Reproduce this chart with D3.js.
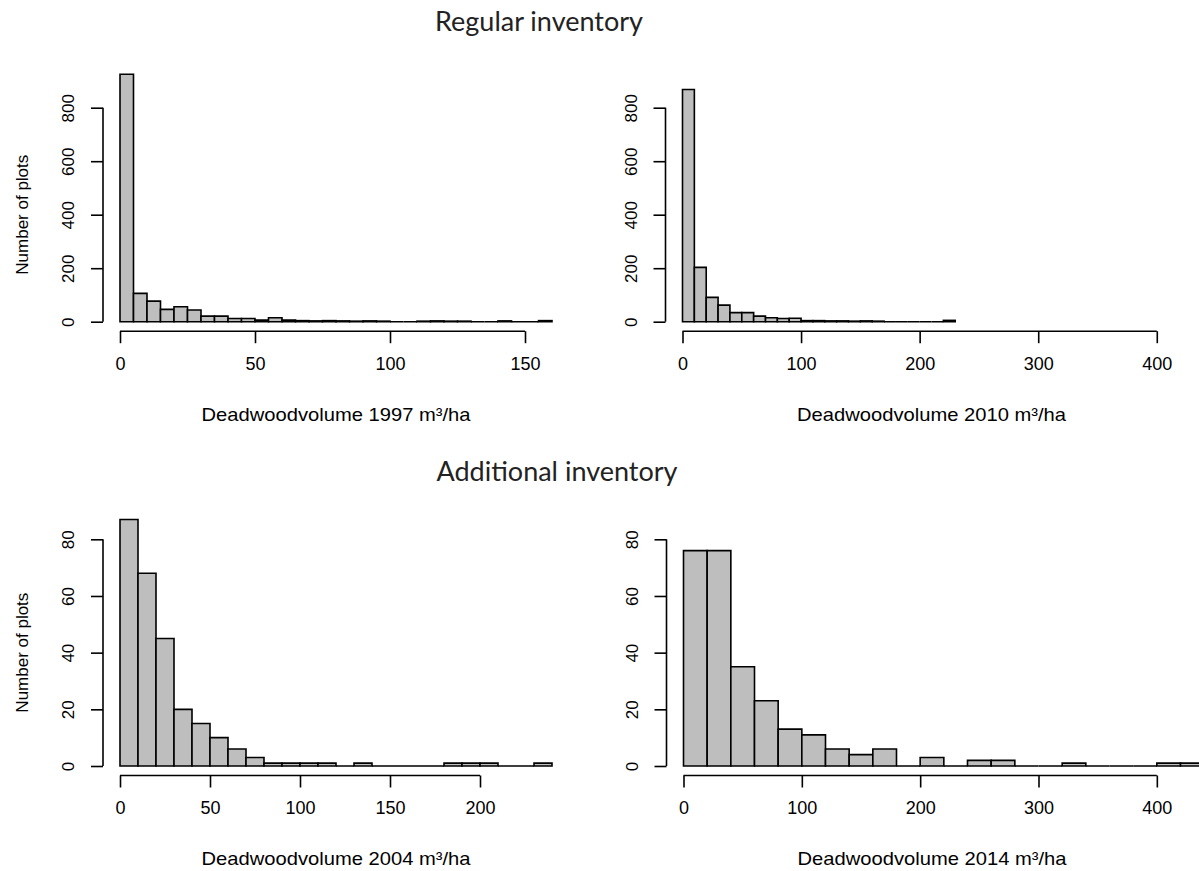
<!DOCTYPE html>
<html>
<head>
<meta charset="utf-8">
<script src="https://cdn.jsdelivr.net/npm/d3@7"></script>
<style>
  body { margin: 0; background: #fff; }
  text { font-family: "Liberation Sans", Arial, sans-serif; fill: #000; }
  .title { font-family: Lato, "Open Sans", sans-serif; font-size: 27px; fill: #222; }
</style>
</head>
<body>
<div id="chart"></div>
<script>
// histogram counts
const counts1997 = [925,106,77,46,56,44,21,21,12,12,6,15,6,4,3,4,3,2,3,2,0,0,2,3,2,2,0,0,3,0,0,4];
const counts2010 = [868,203,91,62,34,34,21,15,12,13,4,4,3,3,2,3,2,0,0,0,0,0,5];
const counts2004 = [87,68,45,20,15,10,6,3,1,1,1,1,0,1,0,0,0,0,1,1,1,0,0,1];
const counts2014 = [76,76,35,23,13,11,6,4,6,0,3,0,2,2,0,0,1,0,0,0,1,1];

const binWidths = [5, 10, 10, 20];
const xTicks1997 = [0, 50, 100, 150];
const xTicks2010 = [0, 100, 200, 300, 400];
const xTicks2004 = [0, 50, 100, 150, 200];
const xTicks2014 = [0, 100, 200, 300, 400];
const yTicksTop = [0, 200, 400, 600, 800];
const yTicksBottom = [0, 20, 40, 60, 80];
const xLabels = ["Deadwoodvolume 1997 m³/ha", "Deadwoodvolume 2010 m³/ha",
                 "Deadwoodvolume 2004 m³/ha", "Deadwoodvolume 2014 m³/ha"];
const rowTitles = ["Regular inventory", "Additional inventory"];

const width = 1199, height = 871;

const svg = d3.select("#chart").append("svg")
  .attr("width", width)
  .attr("height", height);

// panel layout (pixel frames for each plot)
const panels = [
  {counts: counts1997, bw: binWidths[0], xmax: 160, left: 120, right: 552, xticks: xTicks1997, yticks: yTicksTop, ymax: 800, row: 0, label: xLabels[0]},
  {counts: counts2010, bw: binWidths[1], xmax: 420, left: 682.5, right: 1180.5, xticks: xTicks2010, yticks: yTicksTop, ymax: 800, row: 0, label: xLabels[1]},
  {counts: counts2004, bw: binWidths[2], xmax: 240, left: 120, right: 552, xticks: xTicks2004, yticks: yTicksBottom, ymax: 80, row: 1, label: xLabels[2]},
  {counts: counts2014, bw: binWidths[3], xmax: 420, left: 683.5, right: 1180.5, xticks: xTicks2014, yticks: yTicksBottom, ymax: 80, row: 1, label: xLabels[3]}
];

const rows = [
  {base: 321.7, top: 107.7, titleY: 31},
  {base: 766, top: 539.3, titleY: 481}
];

panels.forEach(p => {
  const r = rows[p.row];
  const x = d3.scaleLinear().domain([0, p.xmax]).range([p.left, p.right]);
  const y = d3.scaleLinear().domain([0, p.ymax]).range([r.base, r.top]);
  const g = svg.append("g");

  // bars (zero bins still draw as a flat line like R's hist)
  g.selectAll("path.bar")
    .data(p.counts)
    .enter()
    .append("path")
    .attr("class", "bar")
    .attr("fill", "#bebebe")
    .attr("stroke", "#000")
    .attr("stroke-width", 1.6)
    .attr("d", (d, i) => {
      const x0 = x(i * p.bw), x1 = x((i + 1) * p.bw);
      return `M${x0},${y(0)}V${y(d)}H${x1}V${y(0)}Z`;
    });

  // x axis, R style: line only between first and last tick
  const xa = g.append("g")
    .attr("transform", `translate(0,${r.base + 9.5})`)
    .call(d3.axisBottom(x).tickValues(p.xticks).tickSize(12).tickPadding(14).tickFormat(d3.format("d")));
  xa.select(".domain").remove();
  xa.append("line")
    .attr("x1", x(p.xticks[0])).attr("x2", x(p.xticks[p.xticks.length - 1]))
    .attr("stroke", "#000").attr("stroke-width", 1.6);
  xa.selectAll(".tick line").attr("stroke", "#000").attr("stroke-width", 1.6);
  xa.selectAll(".tick text").style("font-size", "18px").attr("fill", "#000");

  // y axis with rotated labels
  const axX = p.left - 17;
  const ya = g.append("g")
    .attr("transform", `translate(${axX},0)`)
    .call(d3.axisLeft(y).tickValues(p.yticks).tickSize(12).tickFormat(d3.format("d")));
  ya.select(".domain").remove();
  ya.append("line")
    .attr("y1", y(p.yticks[0])).attr("y2", y(p.yticks[p.yticks.length - 1]))
    .attr("stroke", "#000").attr("stroke-width", 1.6);
  ya.selectAll(".tick line").attr("stroke", "#000").attr("stroke-width", 1.6);
  ya.selectAll(".tick text")
    .style("font-size", "17px")
    .attr("fill", "#000")
    .attr("x", null).attr("dy", null)
    .attr("text-anchor", "middle")
    .attr("transform", "translate(-29,0) rotate(-90)");

  // x axis title (reference text is a bit stretched sideways)
  g.append("text")
    .attr("transform", `translate(${(p.left + p.right) / 2},${r.base + 99}) scale(1.12,1)`)
    .attr("text-anchor", "middle")
    .style("font-size", "18px")
    .text(p.label);

  // y axis title, only on the left column
  if (p.left < 300) {
    g.append("text")
      .attr("transform", `translate(28,${(r.base + r.top) / 2}) rotate(-90)`)
      .attr("text-anchor", "middle")
      .style("font-size", "17px")
      .text("Number of plots");
  }
});

svg.append("text").attr("class", "title")
  .attr("x", 539).attr("y", rows[0].titleY)
  .attr("text-anchor", "middle")
  .text(rowTitles[0]);
svg.append("text").attr("class", "title")
  .attr("x", 557).attr("y", rows[1].titleY)
  .attr("text-anchor", "middle")
  .text(rowTitles[1]);
</script>
</body>
</html>
